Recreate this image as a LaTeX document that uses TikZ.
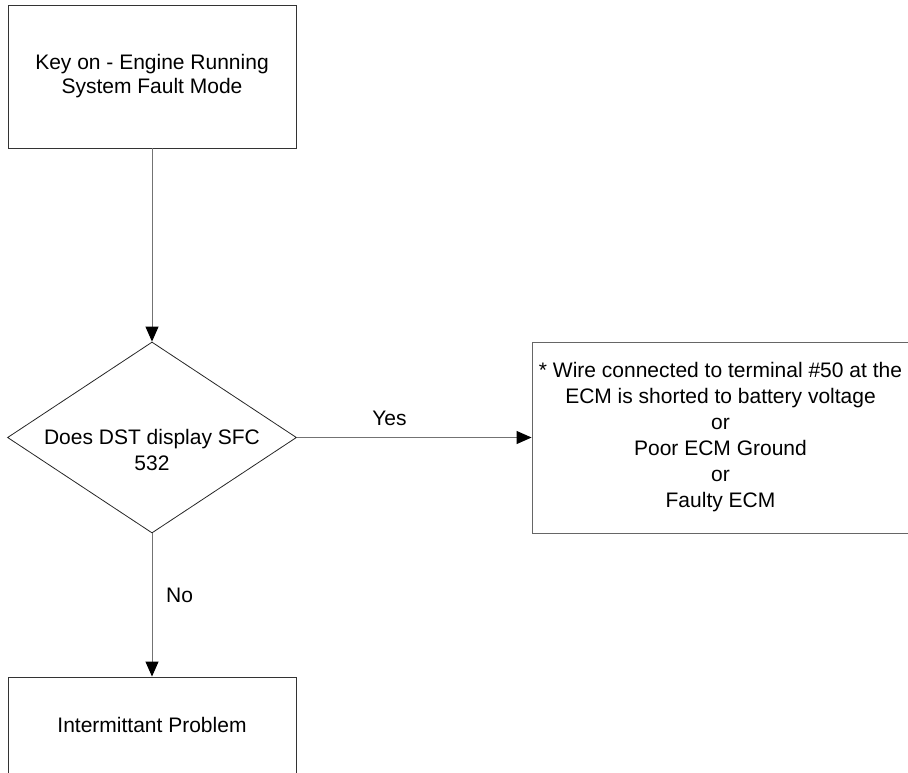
\documentclass[tikz,border=0pt]{standalone}
\usepackage{fontspec}
\setmainfont{Liberation Sans}
\usetikzlibrary{shapes.geometric,arrows.meta}
\begin{document}
\begin{tikzpicture}[x=1pt,y=-1pt,
  boxstyle/.style={draw=black!80, line width=0.9pt, rectangle, inner sep=0pt, align=center, font=\fontsize{21}{24}\selectfont},
  diastyle/.style={draw=black!85, line width=0.8pt, diamond, inner sep=0pt},
  conn/.style={draw=black!55, line width=1pt, -{Triangle[length=15pt,width=13pt,fill=black,color=black]}},
  lbl/.style={font=\fontsize{21}{24}\selectfont, inner sep=0pt}]
\useasboundingbox (0,0) rectangle (908,772);
\node[boxstyle, minimum width=288pt, minimum height=143pt] (top) at (152,76.5)
  {Key on - Engine Running\\System Fault Mode};
\node[diastyle, minimum width=289pt, minimum height=191pt] (dia) at (152,437.5) {};
\node[lbl, align=center, font=\fontsize{21}{26}\selectfont] (diatext) at (152,450) {Does DST display SFC\\532};
\node[boxstyle, draw=black!60, minimum width=377pt, minimum height=191pt, font=\fontsize{21}{26}\selectfont] (right) at (720.5,437.5)
  {* Wire connected to terminal \#50 at the\\ECM is shorted to battery voltage\\or\\Poor ECM Ground\\or\\Faulty ECM};
\node[boxstyle, minimum width=288pt, minimum height=96pt] (bot) at (152,725) {Intermittant Problem};
\draw[conn] (top.south) -- (dia.north);
\draw[conn] (dia.east) -- (right.west);
\draw[conn] (dia.south) -- (bot.north);
\node[lbl, anchor=base] (yes) at (389.5,425) {Yes};
\node[lbl, anchor=base west] (no) at (166,602) {No};
\end{tikzpicture}
\end{document}
